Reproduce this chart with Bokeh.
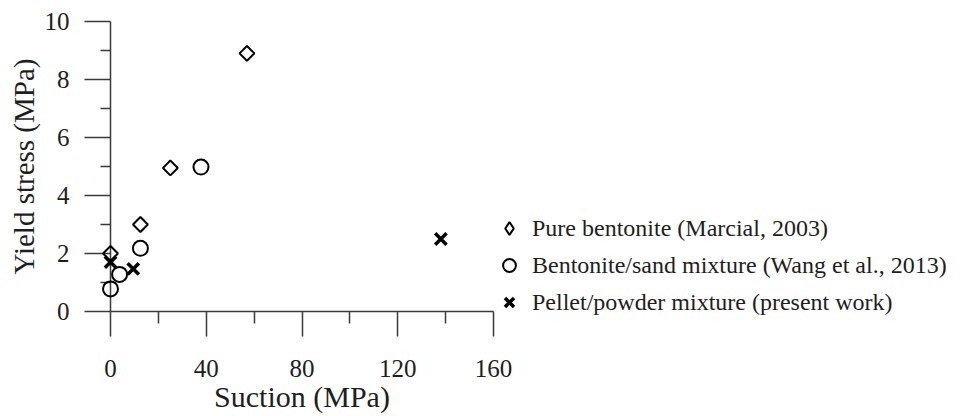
import math
from bokeh.plotting import figure
from bokeh.layouts import row
from bokeh.models import FixedTicker, Legend, LegendItem, Range1d, Spacer
from bokeh.embed import file_html
from bokeh.resources import INLINE

# ---- data ----
series_labels = [
    "Pure bentonite (Marcial, 2003)",
    "Bentonite/sand mixture (Wang et al., 2013)",
    "Pellet/powder mixture (present work)",
]
pure_x = [0, 12.5, 25, 57]
pure_y = [2.0, 3.0, 4.95, 8.9]
sand_x = [0, 3.8, 12.5, 37.8]
sand_y = [0.78, 1.28, 2.18, 4.98]
pellet_x = [0, 9.5, 138]
pellet_y = [1.7, 1.47, 2.5]

x_major = [0, 40, 80, 120, 160]
x_minor = [20, 60, 100, 140]
y_major = [0, 2, 4, 6, 8, 10]
y_minor = [1, 3, 5, 7, 9]

FONT = "Liberation Serif"
AX = "#3a3a3a"
TXT = "#1e1e1e"

p = figure(
    frame_width=383, frame_height=290,
    x_range=Range1d(0, 160), y_range=Range1d(0, 10),
    output_backend="svg", toolbar_location=None,
    min_border_top=21,
    background_fill_color="white", border_fill_color="white",
)
p.outline_line_color = None
p.xgrid.visible = False
p.ygrid.visible = False

r_pure = p.scatter(pure_x, pure_y, marker="square", size=10.5, angle=math.pi / 4,
                   fill_color=None, line_color="black", line_width=2)
r_sand = p.scatter(sand_x, sand_y, marker="circle", size=15,
                   fill_color=None, line_color="black", line_width=2)
r_pel = p.scatter(pellet_x, pellet_y, marker="x", size=16,
                  line_color="black", line_width=3.5)
# legend swatch for the diamonds (legend glyphs are not rotated)
r_pure_key = p.scatter(pure_x, pure_y, marker="diamond", size=14,
                       fill_color=None, line_color="black", line_width=2, visible=False)
for r in (r_pure, r_sand, r_pel):
    r.level = "overlay"

for ax in (p.xaxis[0], p.yaxis[0]):
    ax.axis_line_color = AX
    ax.axis_line_width = 1.5
    ax.major_tick_line_color = AX
    ax.major_tick_line_width = 1.5
    ax.minor_tick_line_color = AX
    ax.minor_tick_line_width = 1.5
    ax.major_tick_in = 0
    ax.minor_tick_in = 0
    ax.major_label_text_font = FONT
    ax.major_label_text_font_size = "25px"
    ax.major_label_text_color = TXT
    ax.axis_label_text_font = FONT
    ax.axis_label_text_font_style = "normal"
    ax.axis_label_text_color = TXT

xa = p.xaxis[0]
xa.ticker = FixedTicker(ticks=x_major, minor_ticks=x_minor)
xa.major_tick_out = 25
xa.minor_tick_out = 12
xa.major_label_standoff = 23
xa.axis_label = "Suction (MPa)"
xa.axis_label_text_font_size = "30px"
xa.axis_label_standoff = 0

ya = p.yaxis[0]
ya.ticker = FixedTicker(ticks=y_major, minor_ticks=y_minor)
ya.major_tick_out = 26
ya.minor_tick_out = 10
ya.major_label_standoff = 15
ya.axis_label = "Yield stress (MPa)"
ya.axis_label_text_font_size = "29px"
ya.axis_label_standoff = 2

legend = Legend(
    items=[
        LegendItem(label=series_labels[0], renderers=[r_pure_key]),
        LegendItem(label=series_labels[1], renderers=[r_sand]),
        LegendItem(label=series_labels[2], renderers=[r_pel]),
    ],
    location=(0, -7),
    margin=0, padding=0,
    glyph_width=32, glyph_height=32, label_height=28, spacing=5,
    label_standoff=7,
    label_text_font=FONT, label_text_font_size="24px", label_text_color=TXT,
    border_line_color=None, background_fill_alpha=0,
    inactive_fill_alpha=0,
)
p.add_layout(legend, "right")

page = row(Spacer(width=4), p, spacing=0)

open("out.html", "w").write(file_html(page, INLINE))
